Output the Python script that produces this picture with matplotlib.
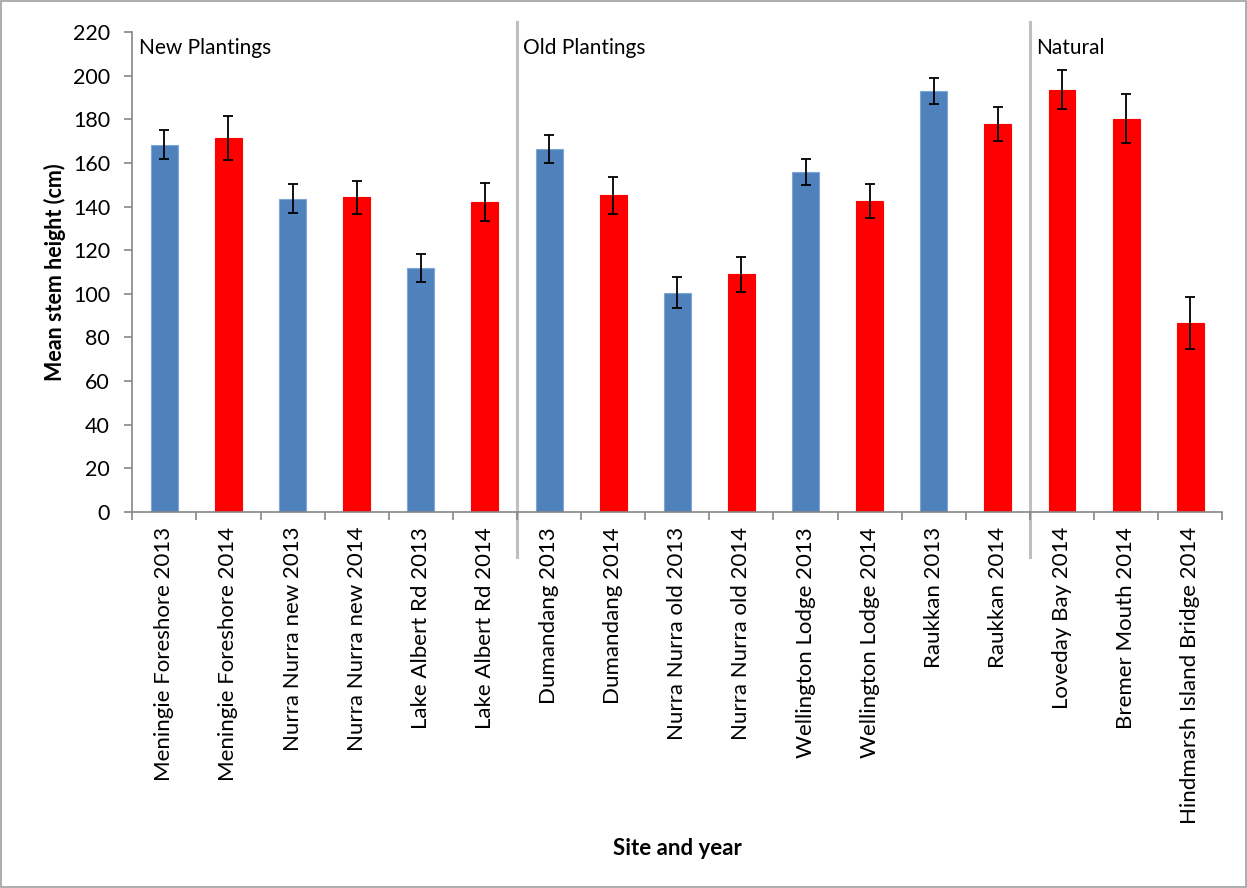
import numpy as np
import matplotlib.pyplot as plt
from matplotlib.patches import Rectangle

plt.rcParams['font.family'] = ['Lato', 'DejaVu Sans']

sites = ["Meningie Foreshore 2013", "Meningie Foreshore 2014",
         "Nurra Nurra new 2013", "Nurra Nurra new 2014",
         "Lake Albert Rd 2013", "Lake Albert Rd 2014",
         "Dumandang 2013", "Dumandang 2014",
         "Nurra Nurra old 2013", "Nurra Nurra old 2014",
         "Wellington Lodge 2013", "Wellington Lodge 2014",
         "Raukkan 2013", "Raukkan 2014",
         "Loveday Bay 2014", "Bremer Mouth 2014",
         "Hindmarsh Island Bridge 2014"]
mean_height = [168.5, 171.5, 143.7, 144.2, 111.7, 142.3,
               166.4, 145.2, 100.5, 108.9, 155.7, 142.4,
               193.1, 177.8, 193.6, 180.4, 86.5]
std_err = [6.7, 10.0, 6.5, 7.7, 6.5, 8.7,
           6.4, 8.4, 7.0, 8.1, 6.0, 7.8,
           6.0, 7.7, 9.0, 11.4, 11.8]
years = [2013, 2014, 2013, 2014, 2013, 2014,
         2013, 2014, 2013, 2014, 2013, 2014,
         2013, 2014, 2014, 2014, 2014]
groups = ["New Plantings", "Old Plantings", "Natural"]
group_start = [0, 6, 14]

colors = ["#4F81BD" if y == 2013 else "#FF0000" for y in years]
edges = ["#7EA6D6" if y == 2013 else "#FF0000" for y in years]
x = np.arange(len(sites))

fig = plt.figure(figsize=(12.47, 8.88), dpi=100)
ax = fig.add_axes([0.1061, 0.4238, 0.8741, 0.5398])

ax.bar(x, mean_height, width=0.42, color=colors, edgecolor=edges,
       linewidth=0.8, zorder=2)
ax.errorbar(x, mean_height, yerr=std_err, fmt="none", ecolor="black",
            elinewidth=1.3, capsize=3.5, capthick=1.3, zorder=3)

ax.set_xlim(-0.5, len(sites) - 0.5)
ax.set_ylim(0, 220)
ax.set_yticks(np.arange(0, 221, 20))
ax.set_xticks(x)
ax.set_xticklabels(sites, rotation=90, fontsize=16)
ax.set_xticks(np.arange(-0.5, len(sites), 1), minor=True)
ax.tick_params(axis="x", which="major", length=0, pad=11)
ax.tick_params(axis="x", which="minor", length=6, color="#868686", width=1.2)
ax.tick_params(axis="y", length=6, color="#868686", width=1.2, labelsize=15.5, pad=10)

for side in ["top", "right"]:
    ax.spines[side].set_visible(False)
for side in ["left", "bottom"]:
    ax.spines[side].set_color("#868686")
    ax.spines[side].set_linewidth(1.2)

ax.set_ylabel("Mean stem height (cm)", fontsize=15.5, fontweight="bold", labelpad=5)
ax.set_xlabel("Site and year", fontsize=16, fontweight="bold", labelpad=10)

# group separators and group names
for name, start in zip(groups, group_start):
    if start > 0:
        ax.plot([start - 0.5, start - 0.5], [-0.094, 1.021], color="#BFBFBF",
                linewidth=2.2, transform=ax.get_xaxis_transform(), clip_on=False, zorder=1)
    ax.text(start - 0.5 + 0.1, 210, name, fontsize=15, va="baseline", ha="left")

fig.add_artist(Rectangle((0.001, 0.001), 0.998, 0.998, transform=fig.transFigure,
                         fill=False, edgecolor="#A0A0A0", linewidth=1.2))

fig.savefig("out.png", dpi=100)
